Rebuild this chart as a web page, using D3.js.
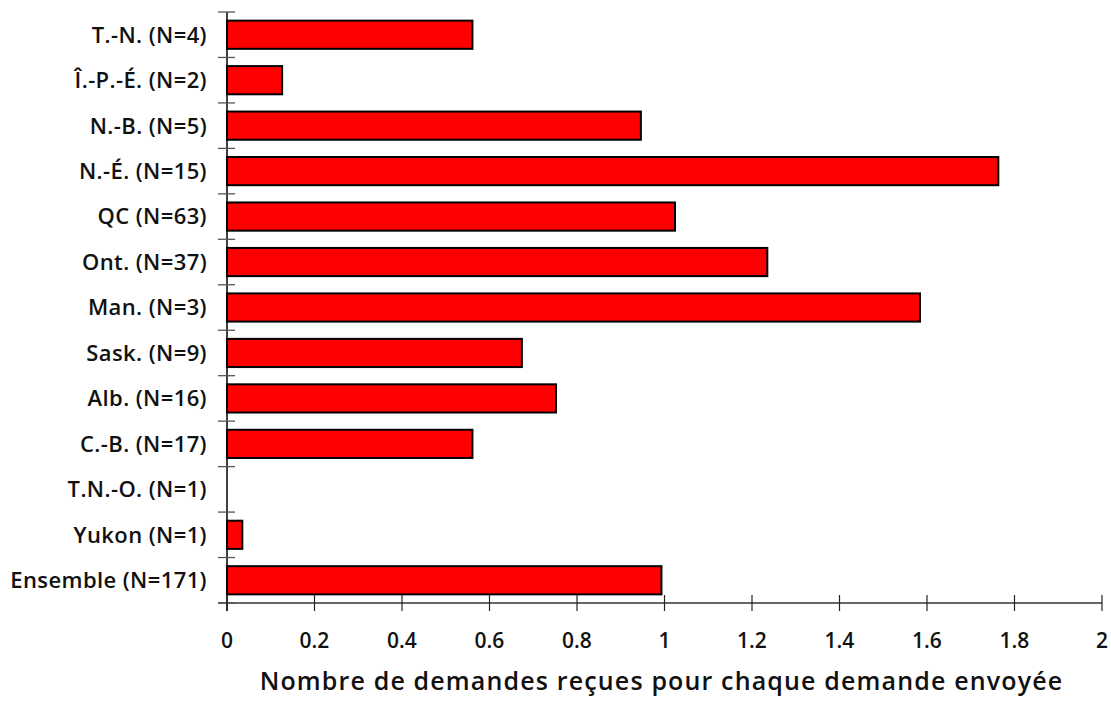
<!DOCTYPE html>
<html>
<head>
<meta charset="utf-8">
<script src="https://cdn.jsdelivr.net/npm/d3@7"></script>
<style>
  html, body { margin: 0; padding: 0; background: #fff; }
  svg { display: block; }
  text { font-family: "Open Sans", sans-serif; font-weight: 600; fill: #111; }
</style>
</head>
<body>
<svg id="chart" width="1111" height="702"></svg>
<script>
const categories = [
  "T.-N. (N=4)", "Î.-P.-É. (N=2)", "N.-B. (N=5)", "N.-É. (N=15)", "QC (N=63)",
  "Ont. (N=37)", "Man. (N=3)", "Sask. (N=9)", "Alb. (N=16)", "C.-B. (N=17)",
  "T.N.-O. (N=1)", "Yukon (N=1)", "Ensemble (N=171)"
];
const values = [0.561, 0.126, 0.946, 1.763, 1.024, 1.235, 1.584, 0.674, 0.752, 0.561, 0, 0.035, 0.993];
const xTicks = [0, 0.2, 0.4, 0.6, 0.8, 1, 1.2, 1.4, 1.6, 1.8, 2];
const xTickLabels = ["0", "0.2", "0.4", "0.6", "0.8", "1", "1.2", "1.4", "1.6", "1.8", "2"];
const xTitle = "Nombre de demandes reçues pour chaque demande envoyée";

const svg = d3.select("#chart");
const mLeft = 227, mRight = 1102, mTop = 12, mBottom = 603;

const x = d3.scaleLinear().domain([0, 2]).range([mLeft, mRight]);
const y = d3.scaleBand().domain(categories).range([mTop, mBottom]).paddingInner(0).paddingOuter(0);
const bw = y.bandwidth();
const yEdge = d3.scaleLinear().domain([0, categories.length]).range([mTop, mBottom]);

const rows = categories.map((c, i) => ({ c, v: values[i] }));

// bars
svg.append("g").selectAll("rect").data(rows.filter(r => r.v > 0)).join("rect")
  .attr("x", x(0))
  .attr("y", r => y(r.c) + bw * 0.19)
  .attr("width", r => x(r.v) - x(0))
  .attr("height", bw * 0.62)
  .attr("fill", "#ff0000")
  .attr("stroke", "#000")
  .attr("stroke-width", 2);

// x axis line
svg.append("line")
  .attr("x1", x(0) - 9).attr("x2", x(2))
  .attr("y1", mBottom).attr("y2", mBottom)
  .attr("stroke", "#666").attr("stroke-width", 2);

// y axis line
svg.append("line")
  .attr("x1", x(0)).attr("x2", x(0))
  .attr("y1", mTop).attr("y2", mBottom + 8)
  .attr("stroke", "#000").attr("stroke-width", 1.5);

// y ticks at band boundaries
svg.append("g").selectAll("line").data(d3.range(categories.length + 1)).join("line")
  .attr("x1", x(0) - 9).attr("x2", x(0) + 8)
  .attr("y1", d => yEdge(d)).attr("y2", d => yEdge(d))
  .attr("stroke", "#555").attr("stroke-width", 1.3);

// x ticks
svg.append("g").selectAll("line").data(xTicks).join("line")
  .attr("x1", d => x(d)).attr("x2", d => x(d))
  .attr("y1", mBottom - 8).attr("y2", mBottom + 8)
  .attr("stroke", "#222").attr("stroke-width", 1.2);

// x tick labels
svg.append("g").selectAll("text").data(xTicks).join("text")
  .attr("x", d => x(d)).attr("y", 648)
  .attr("text-anchor", "middle")
  .attr("font-size", 21)
  .text((d, i) => xTickLabels[i]);

// category labels
svg.append("g").selectAll("text").data(categories).join("text")
  .attr("x", 207).attr("y", d => y(d) + bw / 2)
  .attr("dy", "0.36em")
  .attr("text-anchor", "end")
  .attr("font-size", 22)
  .attr("letter-spacing", 0.4)
  .text(d => d);

// x title
svg.append("text")
  .attr("x", (mLeft + mRight) / 2 - 3).attr("y", 690)
  .attr("text-anchor", "middle")
  .attr("font-size", 25)
  .attr("letter-spacing", 1.15)
  .text(xTitle);
</script>
</body>
</html>
